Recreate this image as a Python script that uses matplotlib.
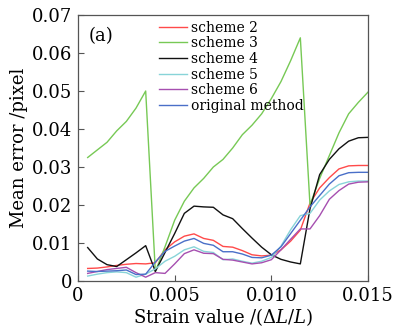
import numpy as np
import matplotlib
matplotlib.use("Agg")
import matplotlib.pyplot as plt

strain = [0.0005, 0.001, 0.0015, 0.002, 0.0025, 0.003, 0.0035, 0.004, 0.0045, 0.005,
          0.0055, 0.006, 0.0065, 0.007, 0.0075, 0.008, 0.0085, 0.009, 0.0095, 0.010,
          0.0105, 0.011, 0.0115, 0.012, 0.0125, 0.013, 0.0135, 0.014, 0.0145, 0.015]

scheme2 = [0.0033, 0.0034, 0.0037, 0.0041, 0.0044, 0.0046, 0.0045, 0.0048, 0.0082, 0.0103,
           0.0118, 0.0124, 0.0112, 0.0107, 0.0091, 0.0089, 0.0080, 0.0069, 0.0066, 0.0068,
           0.0082, 0.0105, 0.0134, 0.0205, 0.0245, 0.0272, 0.0295, 0.0303, 0.0304, 0.0304]

scheme3 = [0.0325, 0.0345, 0.0365, 0.0395, 0.0420, 0.0455, 0.0500, 0.0025, 0.0090, 0.0160,
           0.0210, 0.0245, 0.0270, 0.0300, 0.0320, 0.0350, 0.0385, 0.0410, 0.0440, 0.0480,
           0.0525, 0.0580, 0.0640, 0.0200, 0.0270, 0.0330, 0.0390, 0.0440, 0.0470, 0.0497]

scheme4 = [0.0088, 0.0058, 0.0043, 0.0038, 0.0056, 0.0074, 0.0093, 0.0025, 0.0075, 0.0125,
           0.0178, 0.0197, 0.0195, 0.0194, 0.0174, 0.0164, 0.0138, 0.0113, 0.0089, 0.0069,
           0.0057, 0.0050, 0.0045, 0.0190, 0.0280, 0.0320, 0.0348, 0.0368, 0.0377, 0.0378]

scheme5 = [0.0013, 0.0018, 0.0022, 0.0024, 0.0022, 0.0010, 0.0018, 0.0032, 0.0052, 0.0065,
           0.0082, 0.0090, 0.0078, 0.0075, 0.0056, 0.0058, 0.0052, 0.0047, 0.0052, 0.0062,
           0.0092, 0.0135, 0.0172, 0.0178, 0.0213, 0.0237, 0.0254, 0.0261, 0.0263, 0.0263]

scheme6 = [0.0020, 0.0025, 0.0030, 0.0033, 0.0036, 0.0022, 0.0010, 0.0022, 0.0020, 0.0045,
           0.0072, 0.0082, 0.0073, 0.0072, 0.0057, 0.0055, 0.0050, 0.0045, 0.0048, 0.0056,
           0.0082, 0.0110, 0.0137, 0.0137, 0.0172, 0.0215, 0.0238, 0.0255, 0.0260, 0.0261]

original = [0.0026, 0.0025, 0.0026, 0.0027, 0.0029, 0.0017, 0.0018, 0.0050, 0.0078, 0.0092,
            0.0105, 0.0112, 0.0099, 0.0094, 0.0077, 0.0077, 0.0071, 0.0062, 0.0061, 0.0068,
            0.0090, 0.0125, 0.0160, 0.0195, 0.0225, 0.0255, 0.0277, 0.0285, 0.0286, 0.0286]

series = [
    ("scheme 2", scheme2, "#ff4a4a"),
    ("scheme 3", scheme3, "#77c955"),
    ("scheme 4", scheme4, "#111111"),
    ("scheme 5", scheme5, "#88d4d8"),
    ("scheme 6", scheme6, "#a64fb0"),
    ("original method", original, "#4a6fc8"),
]

xticks = [0, 0.005, 0.010, 0.015]
xticklabels = ["0", "0.005", "0.010", "0.015"]
yticks = [0, 0.01, 0.02, 0.03, 0.04, 0.05, 0.06, 0.07]
yticklabels = ["0", "0.01", "0.02", "0.03", "0.04", "0.05", "0.06", "0.07"]

plt.rcParams['font.family'] = ['DejaVu Serif']
plt.rcParams['mathtext.fontset'] = 'dejavuserif'

fig = plt.figure(figsize=(3.94, 3.30), dpi=100)
ax = fig.add_axes([0.198, 0.1485, 0.736, 0.806])

for label, vals, color in series:
    ax.plot(strain, vals, color=color, lw=1.0, label=label)

ax.set_xlim(0, 0.015)
ax.set_ylim(0, 0.07)
ax.set_xticks(xticks)
ax.set_xticklabels(xticklabels)
ax.set_yticks(yticks)
ax.set_yticklabels(yticklabels)
ax.tick_params(direction='in', length=4, width=0.8, labelsize=13, color='#555555', pad=4)
for sp in ax.spines.values():
    sp.set_color('#555555')
    sp.set_linewidth(0.9)

ax.set_xlabel(r"Strain value /($\Delta L/L$)", fontsize=13, labelpad=1)
ax.set_ylabel("Mean error /pixel", fontsize=13, labelpad=3)

ax.text(0.035, 0.955, "(a)", transform=ax.transAxes, fontsize=13, va='top', ha='left')

leg = ax.legend(loc='upper left', bbox_to_anchor=(0.26, 1.0), frameon=False, fontsize=10,
                handlelength=2.0, handletextpad=0.3, labelspacing=0.12, borderaxespad=0.2,
                borderpad=0.2)

fig.savefig("out.png", dpi=100)
